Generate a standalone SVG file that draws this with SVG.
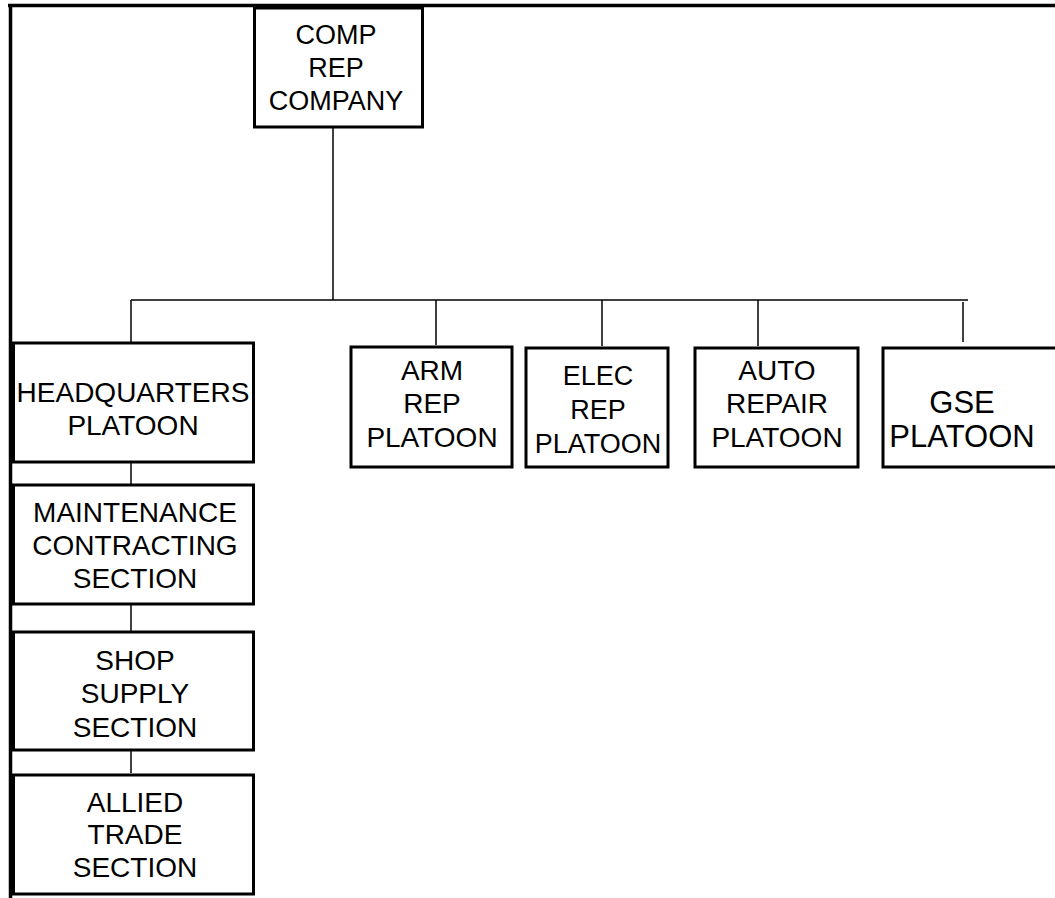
<svg xmlns="http://www.w3.org/2000/svg" width="1055" height="898" viewBox="0 0 1055 898">
<style>
.box{fill:#fff;stroke:#000;stroke-width:3}
.t{font-family:"Liberation Sans",Arial,sans-serif;font-size:28px;fill:#000;text-anchor:middle}
.s{font-size:27px}
.c{stroke:#000;stroke-width:1.5;fill:none}
.f{stroke:#000;stroke-width:3.5;fill:none}
</style>
<rect width="1055" height="898" fill="#fff"/>
<g id="frame">
<line class="f" x1="8" y1="5.5" x2="1055" y2="5.5"/>
<line class="f" x1="10.5" y1="4" x2="10.5" y2="898"/>
</g>
<g id="connectors">
<line class="c" x1="333" y1="128" x2="333" y2="300"/>
<line class="c" x1="131" y1="300" x2="968" y2="300"/>
<line class="c" x1="131" y1="300" x2="131" y2="342"/>
<line class="c" x1="436" y1="300" x2="436" y2="345"/>
<line class="c" x1="602" y1="300" x2="602" y2="346"/>
<line class="c" x1="758" y1="300" x2="758" y2="346"/>
<line class="c" x1="963" y1="302" x2="963" y2="342"/>
<line class="c" x1="131" y1="463" x2="131" y2="484"/>
<line class="c" x1="131" y1="605" x2="131" y2="631"/>
<line class="c" x1="131" y1="747" x2="131" y2="773"/>
</g>
<g id="comp">
<rect class="box" x="254.5" y="8" width="168" height="119"/>
<text class="t s" x="336" y="44">COMP</text>
<text class="t s" x="336" y="77">REP</text>
<text class="t s" x="336" y="110">COMPANY</text>
</g>
<g id="hq">
<rect class="box" x="13.5" y="343" width="240" height="119"/>
<text class="t" x="133" y="402">HEADQUARTERS</text>
<text class="t" x="133" y="435">PLATOON</text>
</g>
<g id="maint">
<rect class="box" x="13.5" y="485" width="240" height="119"/>
<text class="t" x="135" y="522">MAINTENANCE</text>
<text class="t" x="135" y="555">CONTRACTING</text>
<text class="t" x="135" y="588">SECTION</text>
</g>
<g id="shop">
<rect class="box" x="13.5" y="632" width="240" height="118"/>
<text class="t" x="135" y="670">SHOP</text>
<text class="t" x="135" y="703">SUPPLY</text>
<text class="t" x="135" y="737">SECTION</text>
</g>
<g id="allied">
<rect class="box" x="13.5" y="775" width="240" height="119"/>
<text class="t" x="135" y="812">ALLIED</text>
<text class="t" x="135" y="844">TRADE</text>
<text class="t" x="135" y="877">SECTION</text>
</g>
<g id="arm">
<rect class="box" x="351" y="347" width="161" height="120"/>
<text class="t" x="432" y="380">ARM</text>
<text class="t" x="432" y="413">REP</text>
<text class="t" x="432" y="447">PLATOON</text>
</g>
<g id="elec">
<rect class="box" x="526" y="348" width="142" height="119"/>
<text class="t s" x="598" y="385">ELEC</text>
<text class="t s" x="598" y="419">REP</text>
<text class="t s" x="598" y="453">PLATOON</text>
</g>
<g id="auto">
<rect class="box" x="695" y="348" width="163" height="119"/>
<text class="t" x="777" y="380">AUTO</text>
<text class="t" x="777" y="413">REPAIR</text>
<text class="t" x="777" y="447">PLATOON</text>
</g>
<g id="gse">
<rect class="box" x="883" y="348" width="180" height="119"/>
<text class="t" x="962" y="413" style="font-size:31px">GSE</text>
<text class="t" x="962" y="447" style="font-size:31px">PLATOON</text>
</g>
</svg>
